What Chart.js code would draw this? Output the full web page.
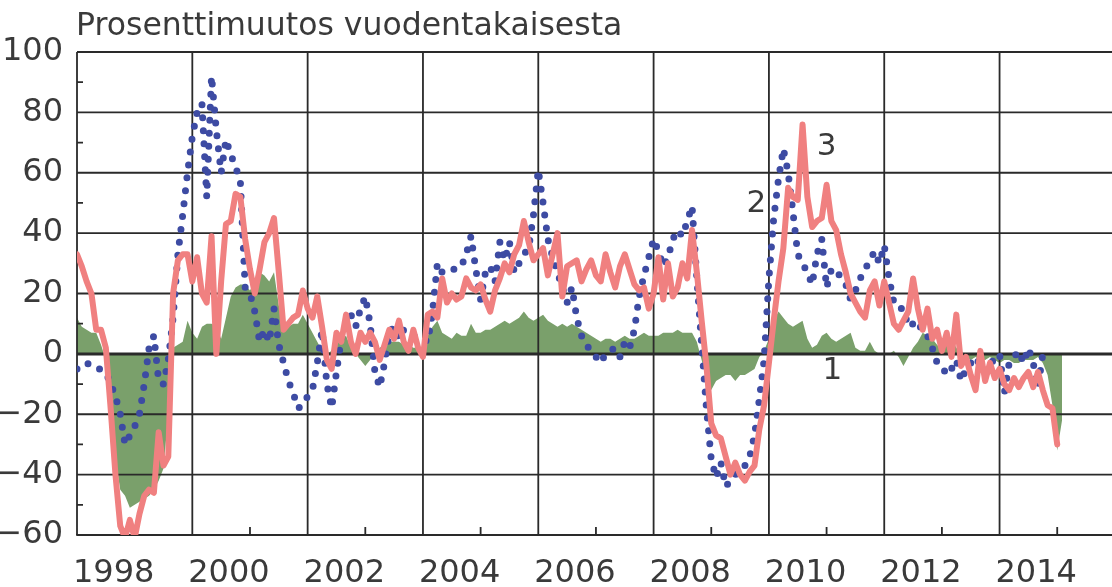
<!DOCTYPE html>
<html>
<head>
<meta charset="utf-8">
<script src="https://cdn.jsdelivr.net/npm/chart.js@4/dist/chart.umd.min.js"></script>
<style>
  html, body { margin: 0; padding: 0; background: #fff; }
</style>
</head>
<body>
<canvas id="chart" width="1112" height="587"></canvas>
<script>
  // kuukausisarjat, alkaen tammikuusta 1997
  const startYear = 1997;

  // 1 = vihreä alue
  const series1 = [
    12, 9, 8, 7, 7, 3, -2, -18, -35, -45,
    -47, -51, -50, -49, -48, -47, -45, -42, -38, -20,
    2, 3, 4, 11, 7, 5, 9, 10, 10, 9,
    5, 12, 19, 22, 23, 23, 21, 24, 27, 26,
    24, 27, 16, 9, 9, 10, 10, 13, 10, 7,
    4, 1, 0, 1, 3, 5, 6, 2, 0, -2,
    -4, -2, 0, 2, 3, 4, 4, 4, 3, 3,
    2, 2, 2, 6, 9, 11, 7, 6, 5, 7,
    6, 6, 10, 7, 7, 8, 8, 9, 10, 11,
    10, 11, 12, 14, 12, 11, 12, 13, 11, 10,
    9, 10, 9, 10, 9, 8, 7, 6, 5, 4,
    5, 5, 4, 5, 6, 5, 5, 6, 7, 6,
    6, 6, 7, 7, 7, 8, 7, 7, 7, 4,
    -2, -8, -12, -9, -8, -7, -7, -9, -7, -7,
    -6, -5, -1, 1, 5, 11, 14, 12, 10, 9,
    10, 11, 5, 2, 3, 6, 7, 5, 4, 5,
    6, 7, 2, 1, 1, 4, 1, 0, 0, 0,
    1, -1, -4, -1, 2, 4, 7, 6, 5, 3,
    1, 3, 5, 2, 0, -1, -2, -1, -2, -2,
    -1, -2, -3, -2, -2, -3, -3, -2, -2, -2,
    -1, -3, -7, -17, -32, -22
  ];

  // 2 = sininen pisteviiva
  const series2 = [
    -5, -4, -3, -4, -5, -5, -6, -10, -14, -20,
    -30, -27, -24, -20, -10, 2, 6, -9, -10, -2,
    12, 33, 46, 60, 72, 80, 83, 52, 92, 74,
    60, 71, 66, 62, 57, 22, 20, 14, 4, 8,
    4, 15, 3, -3, -9, -13, -18, -17, -14, -12,
    -3, 8, -10, -18, -6, 5, 10, 13, 9, 15,
    19, 10, -6, -11, -3, 7, 9, 5, 8, 7,
    6, 5, 5, 4, 14, 30, 27, 28, 28, 28,
    29, 33, 39, 28, 18, 27, 29, 24, 37, 31,
    37, 27, 30, 33, 35, 46, 61, 50, 38, 32,
    27, 22, 17, 22, 12, 6, 3, 1, -1, -3,
    0, 1, 2, -1, 4, 2, 8, 19, 26, 32,
    38, 34, 29, 32, 38, 41, 39, 44, 49, 25,
    3, -18, -35, -41, -36, -44, -42, -40, -39, -37,
    -34, -27, -15, -2, 25, 45, 58, 68, 60, 47,
    33, 30, 27, 23, 33, 38, 22, 28, 28, 25,
    23, 18, 21, 25, 28, 31, 34, 30, 36, 25,
    17, 15, 15, 9, 10, 11, 7, 6, 2, -3,
    -4, -7, -5, -2, -9, -5, -3, -1, -4, -6,
    -3, -2, 0, -13, -3, -1, 1, -3, 2, -3,
    -11, 0
  ];

  // 3 = punainen viiva
  const series3 = [
    33, 29, 24, 20, 8, 8, 2, -18, -40, -57,
    -61, -55, -61, -53, -47, -45, -46, -26, -37, -34,
    20, 31, 33, 33, 24, 32, 20, 17, 39, 0,
    24, 43, 44, 53, 52, 38, 28, 20, 28, 37,
    40, 45, 27, 8, 10, 12, 13, 21, 15, 12,
    19, 9, -2, -5, 7, 4, 13, 4, 0, 7,
    4, 7, 4, -2, 3, 8, 5, 11, 4, 1,
    8, 2, -1, 13, 14, 12, 25, 17, 20, 18,
    19, 25, 22, 21, 23, 18, 14, 21, 25, 30,
    27, 33, 36, 44, 37, 31, 33, 35, 26, 33,
    40, 19, 29, 30, 31, 24, 28, 31, 26, 24,
    33, 27, 22, 29, 33, 28, 23, 21, 22, 15,
    20, 32, 18, 30, 19, 22, 30, 25, 41, 27,
    11, -4, -23, -27, -28, -34, -40, -36, -40, -42,
    -39, -37, -25, -17, -3, 11, 24, 35, 55, 52,
    51, 76, 52, 42, 44, 45, 56, 44, 41, 33,
    27, 20, 17, 14, 12, 21, 24, 16, 24, 17,
    10, 8, 11, 14, 25, 15, 8, 15, 5, 8,
    1, 7, -1, 13, -4, -1, -7, -12, 1, -9,
    -3, -8, -5, -10, -12, -8, -11, -8, -6, -11,
    -6, -12, -17, -18, -30
  ];

  const labelYears = [1998, 2000, 2002, 2004, 2006, 2008, 2010, 2012, 2014];
  const gridYears = [1999, 2001, 2003, 2005, 2007, 2009, 2011, 2013];
  const yTicks = [-60, -40, -20, 0, 20, 40, 60, 80, 100];
  const yMinor = [-50, -30, -10, 10, 30, 50, 70, 90];

  const titleText = 'Prosenttimuutos vuodentakaisesta';
  const seriesTags = [
    { text: '1', x: 2010.1, y: -5.5 },
    { text: '2', x: 2008.78, y: 49.7 },
    { text: '3', x: 2010.0, y: 68.5 }
  ];

  const FONT = '"DejaVu Sans", Verdana, sans-serif';
  const textColor = '#3a3a3a';
  const gridColor = '#2a2a2a';

  const toPoints = vals => vals.map((v, i) => ({ x: startYear + i / 12, y: v }));

  const decor = {
    id: 'decor',
    afterDatasetDraw(chart, args) {
      if (args.index !== 2) return;
      const { ctx, chartArea: a, scales: { x, y } } = chart;
      ctx.save();
      ctx.strokeStyle = gridColor;
      ctx.lineWidth = 1.8;
      ctx.beginPath();
      gridYears.forEach(yr => {
        const px = x.getPixelForValue(yr);
        ctx.moveTo(px, a.top);
        ctx.lineTo(px, a.bottom);
      });
      yTicks.forEach(v => {
        if (v === 0) return;
        const py = y.getPixelForValue(v);
        ctx.moveTo(a.left, py);
        ctx.lineTo(a.right, py);
      });
      // akselit vasen + ala
      ctx.moveTo(a.left, a.top);
      ctx.lineTo(a.left, a.bottom);
      // pienet merkit
      labelYears.forEach(yr => {
        const px = x.getPixelForValue(yr);
        ctx.moveTo(px, a.bottom);
        ctx.lineTo(px, a.bottom - 8);
      });
      yMinor.forEach(v => {
        const py = y.getPixelForValue(v);
        ctx.moveTo(a.left, py);
        ctx.lineTo(a.left + 6, py);
      });
      ctx.stroke();

      ctx.lineWidth = 3;
      ctx.beginPath();
      const zy = y.getPixelForValue(0);
      ctx.moveTo(a.left, zy);
      ctx.lineTo(a.right, zy);
      ctx.stroke();
      ctx.restore();
    },
    afterDraw(chart) {
      const { ctx, chartArea: a, scales: { x, y } } = chart;
      ctx.save();
      ctx.fillStyle = textColor;
      ctx.font = '31.5px ' + FONT;
      ctx.textAlign = 'left';
      ctx.textBaseline = 'alphabetic';
      ctx.fillText(titleText, a.left - 1, 35);

      ctx.font = '31px ' + FONT;
      ctx.textAlign = 'center';
      ctx.textBaseline = 'middle';
      seriesTags.forEach(t => {
        ctx.fillText(t.text, x.getPixelForValue(t.x), y.getPixelForValue(t.y));
      });
      ctx.restore();
    }
  };

  new Chart(document.getElementById('chart'), {
    type: 'line',
    data: {
      datasets: [
        {
          label: '3',
          data: toPoints(series3),
          borderColor: '#f08080',
          borderWidth: 6,
          borderJoinStyle: 'round',
          borderCapStyle: 'round',
          pointRadius: 0,
          fill: false,
          tension: 0
        },
        {
          label: '2',
          data: toPoints(series2),
          borderColor: '#3d4ba3',
          borderWidth: 7,
          borderDash: [0, 13],
          borderCapStyle: 'round',
          pointRadius: 0,
          fill: false,
          tension: 0
        },
        {
          label: '1',
          data: toPoints(series1),
          borderWidth: 0,
          borderColor: 'rgba(0,0,0,0)',
          backgroundColor: '#7aa06b',
          pointRadius: 0,
          fill: 'origin',
          tension: 0
        }
      ]
    },
    options: {
      responsive: false,
      animation: false,
      layout: { padding: { top: 52, left: 0, right: 0, bottom: 0 } },
      plugins: {
        legend: { display: false },
        tooltip: { enabled: false },
        title: { display: false }
      },
      scales: {
        x: {
          type: 'linear',
          min: 1997,
          max: 2014.95,
          afterBuildTicks: s => { s.ticks = labelYears.map(v => ({ value: v })); },
          afterFit: s => { s.height = 52; },
          grid: { display: false },
          border: { display: true, color: gridColor, width: 1.8 },
          ticks: {
            callback: v => String(v),
            font: { family: FONT, size: 32 },
            color: textColor,
            padding: 11,
            labelOffset: -21,
            maxRotation: 0,
            autoSkip: false
          }
        },
        y: {
          min: -60,
          max: 100,
          afterBuildTicks: s => { s.ticks = yTicks.map(v => ({ value: v })); },
          afterFit: s => { s.width = 77; },
          grid: { display: false },
          border: { display: false },
          ticks: {
            callback: v => v < 0 ? '\u2212' + Math.abs(v) : String(v),
            font: { family: FONT, size: 32 },
            color: textColor,
            padding: 6
          }
        }
      }
    },
    plugins: [decor]
  });
</script>
</body>
</html>
